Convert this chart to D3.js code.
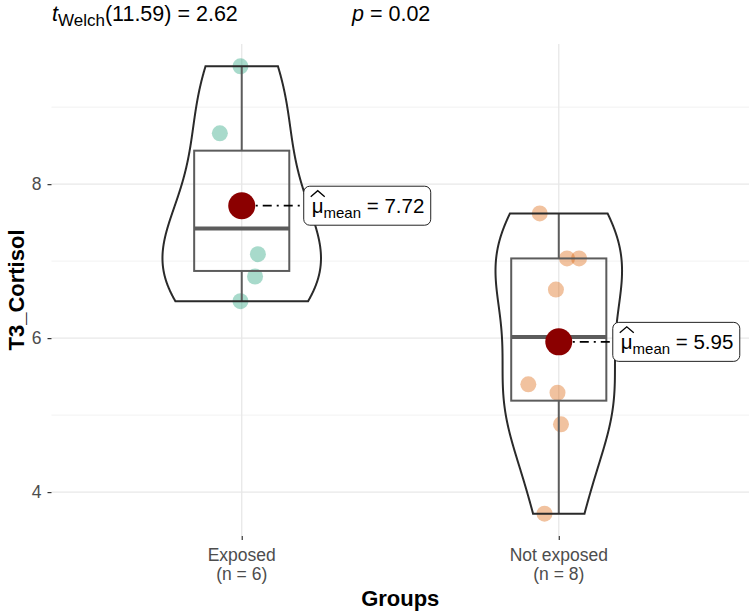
<!DOCTYPE html>
<html><head><meta charset="utf-8">
<script src="https://cdn.jsdelivr.net/npm/d3@7"></script>
<style>body{margin:0;background:#fff}svg{display:block}text{font-family:"Liberation Sans",Arial,sans-serif}</style>
</head><body><svg id="c" width="750" height="614"></svg>
<script>
const groups = ["Exposed", "Not exposed"];
const groupN = ["(n = 6)", "(n = 8)"];
const exposedValues = [9.53, 8.66, 7.76, 7.09, 6.80, 6.48];
const exposedJitter = [-0.004, -0.069, 0.0, 0.051, 0.042, -0.004];
const notExposedValues = [7.62, 7.035, 7.035, 6.63, 5.40, 5.29, 4.88, 3.72];
const notExposedJitter = [-0.060, 0.026, 0.064, -0.009, -0.096, -0.004, 0.007, -0.045];
const yTicks = [4, 6, 8];
const yMinor = [5, 7, 9];
const colors = ["#1B9E77", "#D95F02"];
const meanLabels = ["7.72", "5.95"];

const svg = d3.select("#c");
const L = 51.5, R = 749, T = 44, B = 536;
const data = [exposedValues, notExposedValues];
const jit = [exposedJitter, notExposedJitter];
const all = data.flat();
const ext = d3.extent(all), pad = (ext[1]-ext[0])*0.05;
const y = d3.scaleLinear().domain([ext[0]-pad, ext[1]+pad]).range([B, T]);
const x = d3.scalePoint().domain(groups).range([L, R]).padding(0.6);
const step = x.step();

// grid
const g = svg.append("g");
yMinor.forEach(v => g.append("line").attr("x1",L).attr("x2",R).attr("y1",y(v)).attr("y2",y(v)).attr("stroke","#ededed").attr("stroke-width",0.7));
yTicks.forEach(v => g.append("line").attr("x1",L).attr("x2",R).attr("y1",y(v)).attr("y2",y(v)).attr("stroke","#e8e8e8").attr("stroke-width",1.3));
groups.forEach(c => g.append("line").attr("x1",x(c)).attr("x2",x(c)).attr("y1",T).attr("y2",B).attr("stroke","#e8e8e8").attr("stroke-width",1.3));

// axes
const ya = svg.append("g").attr("transform",`translate(${L},0)`).call(d3.axisLeft(y).tickValues(yTicks).tickFormat(d3.format("d")).tickSize(4).tickPadding(6));
ya.select(".domain").remove();
ya.selectAll(".tick line").attr("stroke","#333").attr("stroke-width",1.2);
ya.selectAll(".tick text").attr("fill","#4d4d4d").attr("font-size",17.5).attr("font-family","Liberation Sans, Arial");
const xa = svg.append("g").attr("transform",`translate(0,${B})`).call(d3.axisBottom(x).tickSize(4).tickFormat(""));
xa.select(".domain").remove();
xa.selectAll(".tick line").attr("stroke","#333").attr("stroke-width",1.2);
groups.forEach((c,i) => {
  const t = svg.append("text").attr("x",x(c)).attr("text-anchor","middle").attr("fill","#4d4d4d").attr("font-size",17.5);
  t.append("tspan").attr("x",x(c)).attr("y",561).text(c);
  t.append("tspan").attr("x",x(c)).attr("y",580).text(groupN[i]);
});
svg.append("text").attr("x",(L+R)/2).attr("y",606).attr("text-anchor","middle").attr("font-weight","bold").attr("font-size",22).text("Groups");
svg.append("text").attr("transform",`translate(24,${(T+B)/2}) rotate(-90)`).attr("text-anchor","middle").attr("font-weight","bold").attr("font-size",22).text("T3_Cortisol");

// KDE (nrd0 bandwidth, trimmed, 512 pts)
function q7(s, p){ const h=(s.length-1)*p, lo=Math.floor(h); return s[lo] + (h-lo)*((s[Math.min(lo+1,s.length-1)])-s[lo]); }
function bwNrd0(v){ const s=v.slice().sort(d3.ascending); const sd=d3.deviation(v); const iqr=q7(s,0.75)-q7(s,0.25); const lo=Math.min(sd, iqr/1.34); return 0.9*lo*Math.pow(v.length,-0.2); }
const dens = data.map(v => {
  const bw = bwNrd0(v), e = d3.extent(v), n = 512, out = [];
  for (let k=0;k<n;k++){ const yy = e[0] + (e[1]-e[0])*k/(n-1);
    let s=0; v.forEach(d => { const z=(yy-d)/bw; s += Math.exp(-0.5*z*z); });
    out.push([yy, s/(v.length*bw*Math.sqrt(2*Math.PI))]); }
  return out;
});
const maxD = d3.max(dens.flat(), d => d[1]);

// points
groups.forEach((c,i) => {
  data[i].forEach((v,j) => svg.append("circle").attr("cx",x(c)+jit[i][j]*step).attr("cy",y(v)).attr("r",8).attr("fill",colors[i]).attr("fill-opacity",0.38));
});

// boxplots
groups.forEach((c,i) => {
  const s = data[i].slice().sort(d3.ascending);
  const q1=q7(s,0.25), md=q7(s,0.5), q3=q7(s,0.75), iqr=q3-q1;
  const lo = d3.min(s.filter(d=>d>=q1-1.5*iqr)), hi = d3.max(s.filter(d=>d<=q3+1.5*iqr));
  const cx=x(c), hw=0.15*step, bg=svg.append("g").attr("stroke","#5c5c5c").attr("fill","none");
  bg.append("line").attr("x1",cx).attr("x2",cx).attr("y1",y(q3)).attr("y2",y(hi)).attr("stroke-width",2);
  bg.append("line").attr("x1",cx).attr("x2",cx).attr("y1",y(q1)).attr("y2",y(lo)).attr("stroke-width",2);
  bg.append("rect").attr("x",cx-hw).attr("y",y(q3)).attr("width",2*hw).attr("height",y(q1)-y(q3)).attr("stroke-width",2);
  bg.append("line").attr("x1",cx-hw).attr("x2",cx+hw).attr("y1",y(md)).attr("y2",y(md)).attr("stroke-width",4);
});

// violins
groups.forEach((c,i) => {
  const cx = x(c), w = 0.25*step;
  const area = d3.area().y(d=>y(d[0])).x0(d=>cx - w*d[1]/maxD).x1(d=>cx + w*d[1]/maxD).curve(d3.curveLinear);
  svg.append("path").datum(dens[i]).attr("d",area).attr("fill","none").attr("stroke","#2a2a2a").attr("stroke-width",2);
});

// means + labels
const labelOffsets = [62, 54];
groups.forEach((c,i) => {
  const m = d3.mean(data[i]), cx = x(c), cy = y(m);
  const lx = cx + labelOffsets[i], bw = 127, bh = 39;
  svg.append("line").attr("x1",cx).attr("x2",lx).attr("y1",cy).attr("y2",cy).attr("stroke","#000").attr("stroke-width",1.8).attr("stroke-dasharray","9,5,2,5");
  svg.append("circle").attr("cx",cx).attr("cy",cy).attr("r",13.5).attr("fill","#8B0000");
  svg.append("rect").attr("x",lx).attr("y",cy-bh/2).attr("width",bw).attr("height",bh).attr("rx",6).attr("fill","#fff").attr("stroke","#222").attr("stroke-width",1);
  const t = svg.append("text").attr("x",lx+8).attr("y",cy+7).attr("font-size",20.5).attr("fill","#000");
  t.append("tspan").text("μ");
  t.append("tspan").attr("font-size",15).attr("dy",5).text("mean");
  t.append("tspan").attr("dy",-5).text(" = " + meanLabels[i]);
  svg.append("path").attr("d",`M${lx+7},${cy-9} L${lx+14},${cy-15} L${lx+21},${cy-9}`).attr("fill","none").attr("stroke","#000").attr("stroke-width",1.3);
});

// title
const t1 = svg.append("text").attr("x",52).attr("y",21).attr("font-size",21.5).attr("fill","#000");
t1.append("tspan").attr("font-style","italic").text("t");
t1.append("tspan").attr("font-size",17).attr("dy",5).text("Welch");
t1.append("tspan").attr("dy",-5).text("(11.59) = 2.62");
const t2 = svg.append("text").attr("x",352).attr("y",21).attr("font-size",21.5).attr("fill","#000");
t2.append("tspan").attr("font-style","italic").text("p");
t2.append("tspan").text(" = 0.02");
</script></body></html>
